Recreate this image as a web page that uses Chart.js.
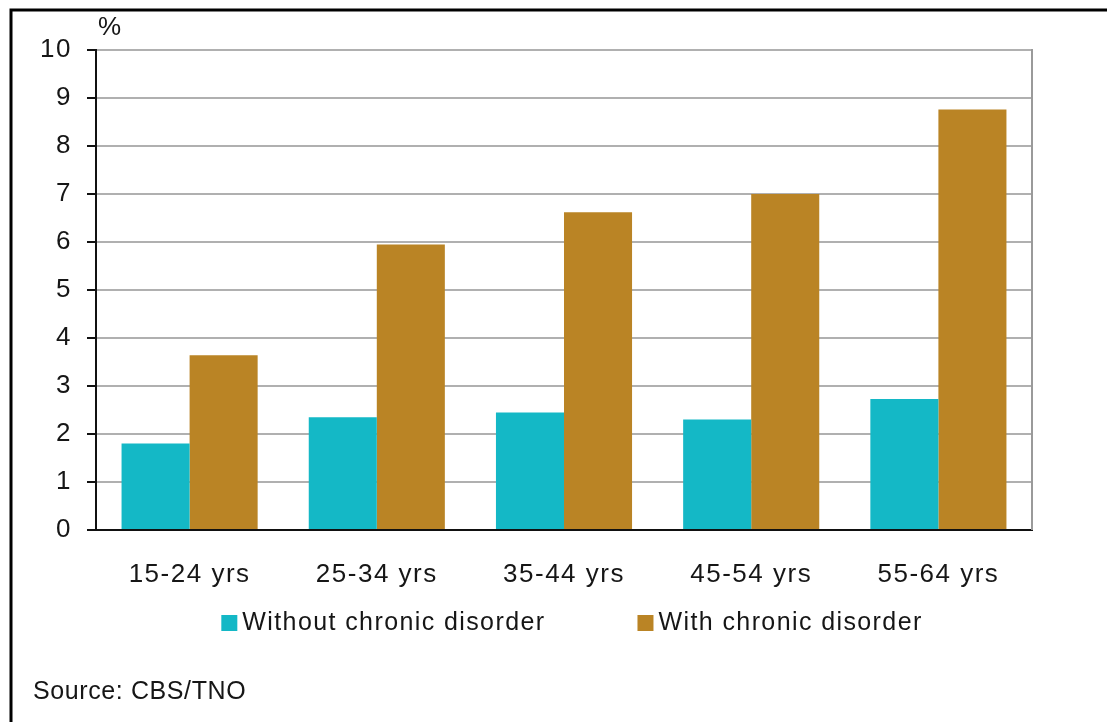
<!DOCTYPE html>
<html>
<head>
<meta charset="utf-8">
<style>
  html, body { margin: 0; padding: 0; background: #ffffff; }
  #wrap { width: 1107px; height: 722px; position: relative; }
  canvas { display: block; }
</style>
<script src="https://cdn.jsdelivr.net/npm/chart.js@4.4.1/dist/chart.umd.min.js"></script>
</head>
<body>
<div id="wrap"><canvas id="c" width="1107" height="722"></canvas></div>
<script>
// Age groups along the x axis
const categories = ['15-24 yrs', '25-34 yrs', '35-44 yrs', '45-54 yrs', '55-64 yrs'];
// Percentages per group
const withoutChronic = [1.8, 2.35, 2.45, 2.3, 2.73];
const withChronic = [3.64, 5.95, 6.62, 7.0, 8.76];
// Series names
const seriesNames = ['Without chronic disorder', 'With chronic disorder'];
// Y axis range and step
const yTicks = { min: 0, max: 10, step: 1 };
const unitLabel = '%';
const sourceNote = 'Source: CBS/TNO';

const FONT = "'Liberation Sans', Arial, sans-serif";
const TEXT = '#161616';
const CYAN = '#14b8c6';
const BROWN = '#ba8425';

// Frame, unit label, right border line, legend and source note
const decorations = {
  id: 'decorations',
  beforeDraw(chart) {
    const ctx = chart.ctx;
    ctx.save();
    ctx.fillStyle = '#ffffff';
    ctx.fillRect(0, 0, chart.width, chart.height);
    ctx.strokeStyle = '#000000';
    ctx.lineWidth = 3;
    ctx.beginPath();
    ctx.moveTo(11, chart.height + 2);
    ctx.lineTo(11, 10);
    ctx.lineTo(chart.width + 2, 10);
    ctx.stroke();
    ctx.restore();
    // wider glyph spacing for the axis tick labels
    ctx.letterSpacing = '1.5px';
  },
  beforeDatasetsDraw(chart) {
    const ctx = chart.ctx;
    const a = chart.chartArea;
    ctx.save();
    ctx.strokeStyle = '#9a9a9a';
    ctx.lineWidth = 2;
    ctx.beginPath();
    ctx.moveTo(a.right, a.top - 1);
    ctx.lineTo(a.right, a.bottom);
    ctx.stroke();
    ctx.restore();
  },
  afterDraw(chart) {
    const ctx = chart.ctx;
    const a = chart.chartArea;
    ctx.save();
    ctx.fillStyle = TEXT;
    ctx.textBaseline = 'middle';
    ctx.textAlign = 'left';

    // unit above the y axis
    ctx.letterSpacing = '0px';
    ctx.font = '26px ' + FONT;
    ctx.fillText(unitLabel, a.left + 2, 28);

    // legend
    ctx.font = '25px ' + FONT;
    ctx.letterSpacing = '1.4px';
    const box = 16, boxGap = 5, itemGap = 92;
    const items = chart.data.datasets.map(ds => ({
      text: ds.label, color: ds.backgroundColor, w: ctx.measureText(ds.label).width
    }));
    let total = 0;
    items.forEach((it, i) => { total += box + boxGap + it.w + (i ? itemGap : 0); });
    let x = (a.left + a.right) / 2 + 8 - total / 2;
    const ly = 623;
    items.forEach(it => {
      ctx.fillStyle = it.color;
      ctx.fillRect(x, ly - box / 2, box, box);
      x += box + boxGap;
      ctx.fillStyle = TEXT;
      ctx.fillText(it.text, x, ly);
      x += it.w + itemGap;
    });

    // source note
    ctx.letterSpacing = '0.6px';
    ctx.font = '25px ' + FONT;
    ctx.fillText(sourceNote, 33, 692);
    ctx.restore();
  }
};

new Chart(document.getElementById('c'), {
  type: 'bar',
  data: {
    labels: categories,
    datasets: [
      { label: seriesNames[0], data: withoutChronic, backgroundColor: CYAN, borderWidth: 0 },
      { label: seriesNames[1], data: withChronic, backgroundColor: BROWN, borderWidth: 0 }
    ]
  },
  plugins: [decorations],
  options: {
    responsive: false,
    devicePixelRatio: 1,
    animation: false,
    events: [],
    layout: { padding: { left: 0, top: 50, right: 75, bottom: 0 } },
    plugins: {
      legend: { display: false },
      tooltip: { enabled: false },
      title: { display: false }
    },
    datasets: {
      bar: { barPercentage: 1.0, categoryPercentage: 0.727 }
    },
    scales: {
      x: {
        z: 1,
        grid: { display: false },
        border: { display: true, color: '#111111', width: 2 },
        ticks: { color: TEXT, font: { family: FONT, size: 26 }, padding: 21, maxRotation: 0 },
        afterFit(scale) { scale.height = 192; }
      },
      y: {
        min: yTicks.min,
        max: yTicks.max,
        ticks: {
          stepSize: yTicks.step,
          color: TEXT,
          font: { family: FONT, size: 26 },
          padding: 15
        },
        grid: {
          color: ctx => (ctx.tick && ctx.tick.value === 0 ? 'rgba(0,0,0,0)' : '#b0b0b0'),
          lineWidth: 2,
          tickColor: '#111111',
          tickLength: 9,
          tickWidth: 2
        },
        border: { display: true, color: '#111111', width: 2 },
        afterFit(scale) { scale.width = 96; }
      }
    }
  }
});
</script>
</body>
</html>
